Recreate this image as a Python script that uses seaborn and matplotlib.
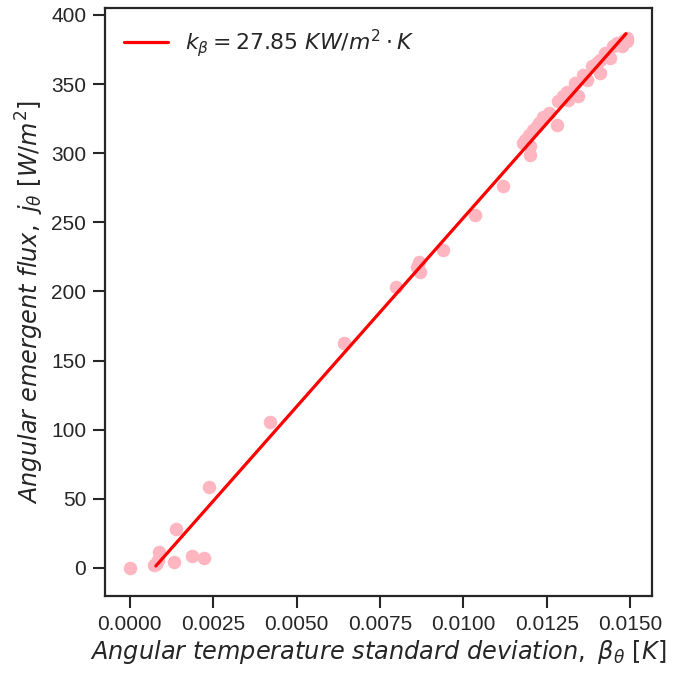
import numpy as np
import pandas as pd
import matplotlib
matplotlib.use("Agg")
import matplotlib.pyplot as plt
import seaborn as sns

# ---- data ----
beta = [0.0, 0.00073, 0.00078, 0.00083, 0.00088, 0.00131, 0.00138, 0.00185,
        0.00223, 0.00238, 0.0042, 0.00642, 0.00798, 0.00861, 0.00868, 0.00869,
        0.00939, 0.01036, 0.01118, 0.0118, 0.01186, 0.01196, 0.01199, 0.0120,
        0.0121, 0.0122, 0.01226, 0.01240, 0.01256, 0.01280, 0.01285, 0.0130,
        0.01310, 0.01315, 0.01335, 0.01345, 0.01360, 0.01372, 0.01385, 0.01400,
        0.01410, 0.01410, 0.01425, 0.01440, 0.01450, 0.01460, 0.01475, 0.01482,
        0.01490, 0.01490]
flux = [0.0, 2.2, 2.9, 5.8, 11.8, 4.3, 28.0, 8.7,
        7.5, 58.8, 105.4, 162.8, 203.0, 218.0, 221.6, 214.4,
        230.0, 255.2, 276.6, 307.0, 309.5, 313.0, 299.0, 305.0,
        317.0, 319.4, 321.8, 326.0, 329.0, 320.5, 337.5, 341.0,
        344.6, 338.6, 350.8, 341.0, 356.7, 353.0, 362.7, 365.0,
        358.0, 367.6, 372.5, 369.0, 377.3, 380.0, 377.3, 382.0,
        383.3, 381.0]
fit_beta = [0.00078, 0.01488]
fit_flux = [1.4, 386.4]
fit_label = r'$k_\beta = 27.85\ KW/m^2 \cdot K$'
x_ticks = [0.0, 0.0025, 0.005, 0.0075, 0.01, 0.0125, 0.015]
y_ticks = [0, 50, 100, 150, 200, 250, 300, 350, 400]

df = pd.DataFrame({"beta": beta, "flux": flux})
fit_df = pd.DataFrame({"beta": fit_beta, "flux": fit_flux})

sns.set_theme(style="ticks")
plt.rcParams['font.family'] = ['Liberation Sans', 'DejaVu Sans']
plt.rcParams['mathtext.fontset'] = 'dejavusans'

fig = plt.figure(figsize=(6.78, 6.73), dpi=100)
ax = fig.add_axes([105/678, 77/673, 547/678, 588/673])

sns.scatterplot(data=df, x="beta", y="flux", color="#ffb6c1", s=95,
                linewidth=0, ax=ax, zorder=2)
sns.lineplot(data=fit_df, x="beta", y="flux", color="red", linewidth=2.3,
             label=fit_label, ax=ax, zorder=3)

ax.set_xticks(x_ticks)
ax.set_yticks(y_ticks)
ax.set_xticklabels([f"{v:.4f}" for v in x_ticks])
ax.set_xlim(-0.000745, 0.01566)
ax.set_ylim(-20.3, 405)

ax.tick_params(axis='both', labelsize=15, length=8.5, width=1.5,
               colors='#262626', direction='out', pad=5)
for sp in ax.spines.values():
    sp.set_linewidth(1.6)
    sp.set_color('#262626')

ax.set_xlabel(r'$\mathit{Angular\ temperature\ standard\ deviation,}\ \beta_\theta\ [K]$',
              fontsize=17.3, color='#262626', labelpad=3)
ax.set_ylabel(r'$\mathit{Angular\ emergent\ flux,}\ j_\theta\ [W/m^2]$',
              fontsize=17.3, color='#262626', labelpad=4)

leg = ax.legend(loc='upper left', frameon=False, fontsize=15.8,
                handlelength=2.0, borderaxespad=0.45)

fig.savefig("out.png", dpi=100)
